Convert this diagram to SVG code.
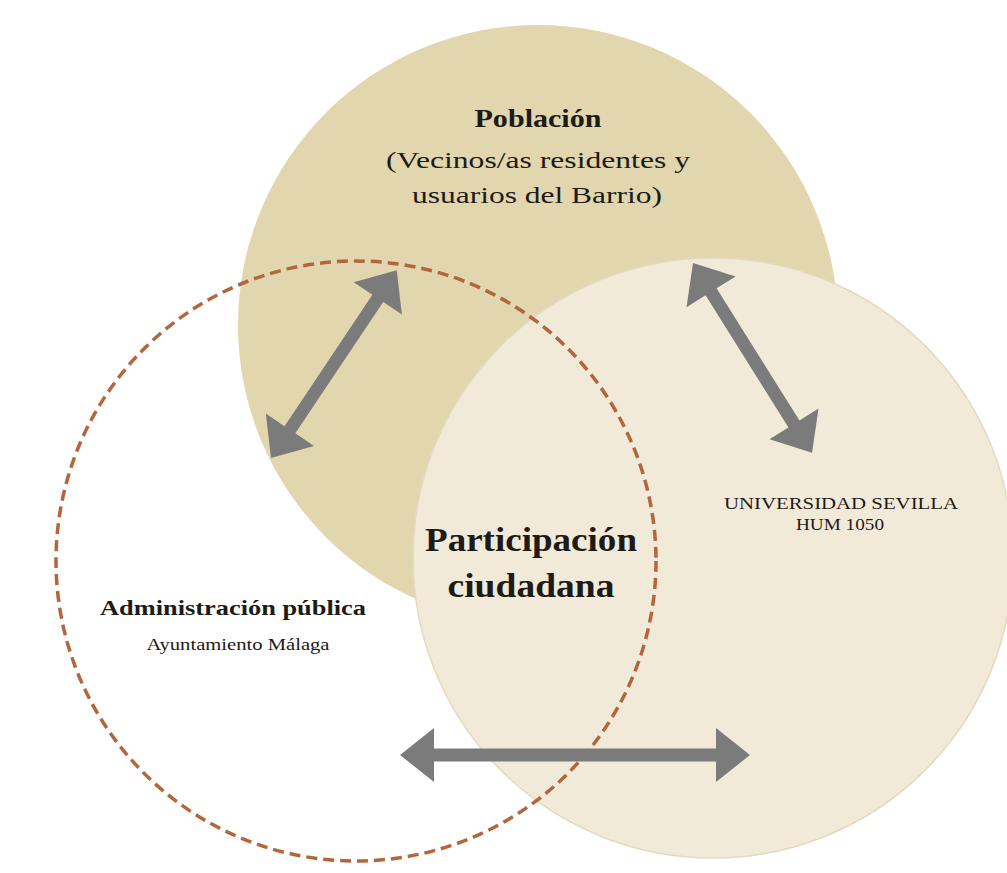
<svg xmlns="http://www.w3.org/2000/svg" width="1007" height="873" viewBox="0 0 1007 873">
  <style>
    .t { font-family: "Liberation Serif", "DejaVu Serif", serif; fill: #1e1a16; text-anchor: middle; }
    .b { font-weight: bold; }
    .arrow { fill: #7b7b7b; }
  </style>
  <rect x="0" y="0" width="1007" height="873" fill="#ffffff"/>

  <g id="poblacion">
    <circle cx="538" cy="325" r="300" fill="#e1d6ae"/>
  </g>
  <g id="universidad">
    <circle cx="713" cy="558" r="300" fill="#f1ead9" stroke="#e4dac0" stroke-width="1.5"/>
  </g>
  <g id="administracion">
    <circle cx="356" cy="561" r="300" fill="none" stroke="#b3653c" stroke-width="3.5" stroke-dasharray="11 6"/>
  </g>

  <g id="connectors">
    <path class="arrow" transform="translate(271,458) rotate(-56.2)" d="M0,0 L34,-29 L34,-6.5 L192,-6.5 L192,-29 L226,0 L192,29 L192,6.5 L34,6.5 L34,29 Z"/>
    <path class="arrow" transform="translate(693,263) rotate(57.9)" d="M0,0 L34,-29 L34,-6.5 L190,-6.5 L190,-29 L224,0 L190,29 L190,6.5 L34,6.5 L34,29 Z"/>
    <path class="arrow" transform="translate(400,755)" d="M0,0 L34,-27 L34,-6.5 L316,-6.5 L316,-27 L350,0 L316,27 L316,6.5 L34,6.5 L34,27 Z"/>
  </g>

  <g id="label-poblacion">
    <text class="t b" x="538" y="127" font-size="25" textLength="127" lengthAdjust="spacingAndGlyphs">Población</text>
    <text class="t" x="538" y="168" font-size="24" textLength="304" lengthAdjust="spacingAndGlyphs">(Vecinos/as residentes y</text>
    <text class="t" x="537" y="203" font-size="24" textLength="250" lengthAdjust="spacingAndGlyphs">usuarios del Barrio)</text>
  </g>
  <g id="label-participacion">
    <text class="t b" x="531" y="551" font-size="34" textLength="212" lengthAdjust="spacingAndGlyphs">Participación</text>
    <text class="t b" x="531" y="597" font-size="34" textLength="167" lengthAdjust="spacingAndGlyphs">ciudadana</text>
  </g>
  <g id="label-administracion">
    <text class="t b" x="233" y="615" font-size="21" textLength="266" lengthAdjust="spacingAndGlyphs">Administración pública</text>
    <text class="t" x="238" y="650" font-size="16" textLength="183" lengthAdjust="spacingAndGlyphs">Ayuntamiento Málaga</text>
  </g>
  <g id="label-universidad">
    <text class="t" x="841" y="509" font-size="16" textLength="234" lengthAdjust="spacingAndGlyphs" fill="#333">UNIVERSIDAD SEVILLA</text>
    <text class="t" x="840" y="530" font-size="16" textLength="88" lengthAdjust="spacingAndGlyphs" fill="#333">HUM 1050</text>
  </g>
</svg>
